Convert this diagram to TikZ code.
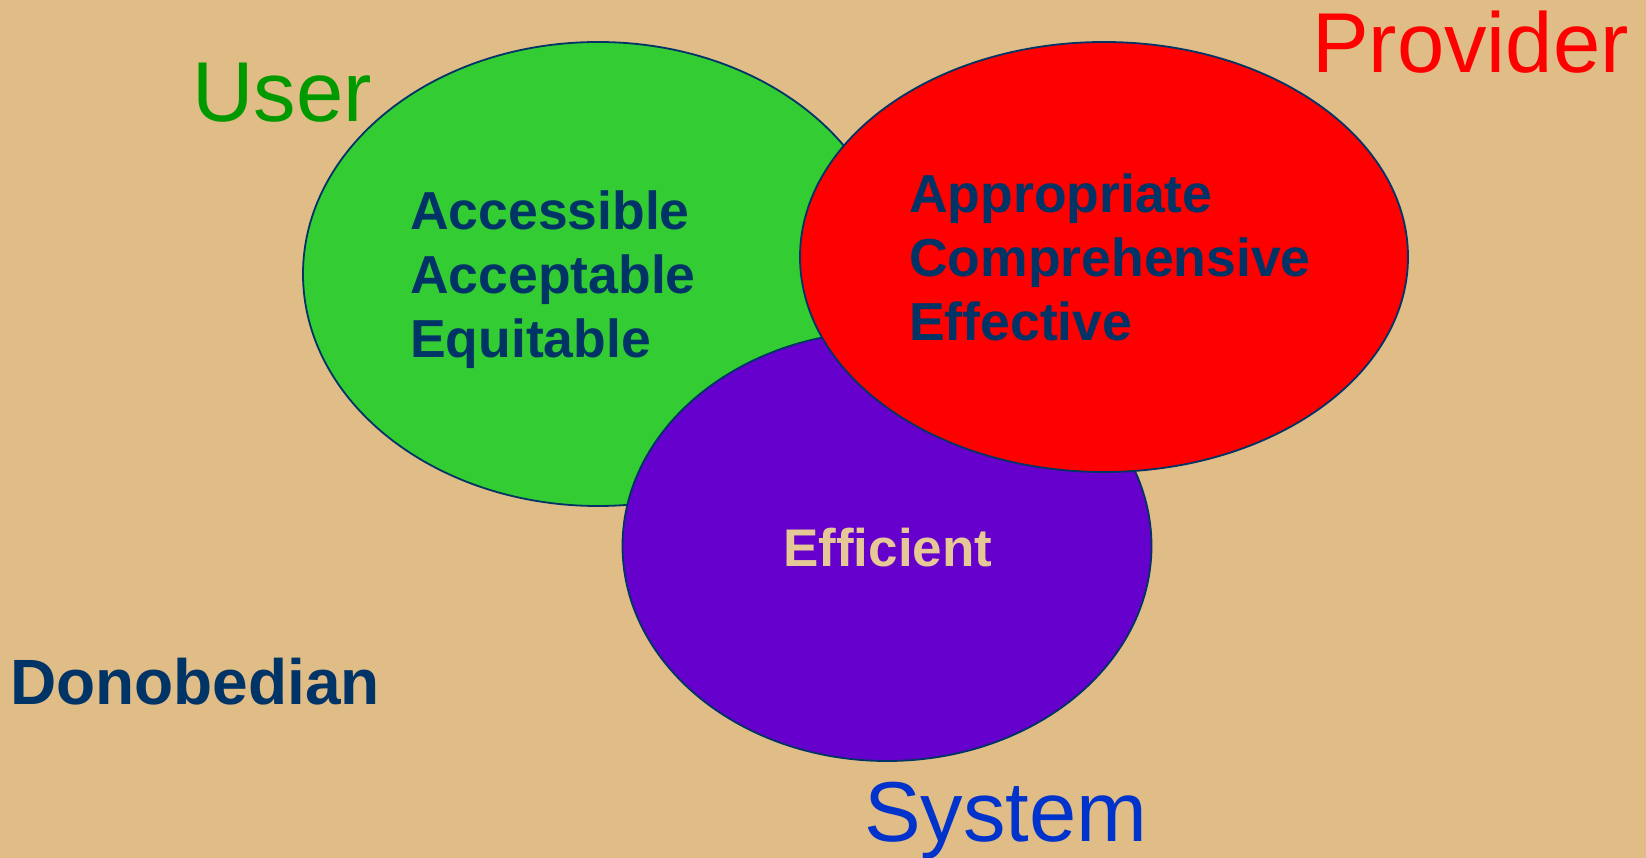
\documentclass[tikz,border=0pt]{standalone}
\usepackage{fontspec}
\setmainfont{Liberation Sans}
\usetikzlibrary{shapes,positioning}
\definecolor{bgsand}{RGB}{224,188,135}
\definecolor{usergreen}{RGB}{51,204,51}
\definecolor{provred}{RGB}{255,0,0}
\definecolor{syspurple}{RGB}{102,0,204}
\definecolor{navy}{RGB}{0,51,102}
\definecolor{labgreen}{RGB}{0,153,0}
\definecolor{sysblue}{RGB}{0,51,204}
\definecolor{effsand}{RGB}{230,200,150}
\tikzset{
    %Define style for the three sets
    set/.style={
           ellipse,
           draw=navy,
           line width=1.8pt,
           inner sep=0pt},
    % Define style for the group labels
    grouplabel/.style={
           anchor=base west,
           inner sep=0pt,
           font=\fontsize{85}{85}\selectfont},
    % Define style for the quality words
    quality/.style={
           anchor=base west,
           inner sep=0pt,
           text=navy,
           font=\fontsize{53.5}{64}\selectfont\bfseries}
}
\begin{document}
\begin{tikzpicture}[x=1pt, y=-1pt]
    \fill[bgsand] (0,0) rectangle (1646,858);
    \useasboundingbox (0,0) rectangle (1646,858);

    \node [set, fill=usergreen, minimum width=590pt, minimum height=464pt] (user) at (598,274) {};
    \node [set, fill=syspurple, minimum width=529pt, minimum height=430pt] (system) at (887,546) {};
    \node [set, fill=provred, minimum width=608pt, minimum height=430pt] (provider) at (1104,257) {};

    \node [quality] (accessible) at (410,230) {Accessible};
    \node [quality] (acceptable) at (410,294) {Acceptable};
    \node [quality] (equitable) at (410,358) {Equitable};

    \node [quality] (appropriate) at (909,213) {Appropriate};
    \node [quality] (comprehensive) at (909,277) {Comprehensive};
    \node [quality] (effective) at (909,341) {Effective};

    \node [quality, text=effsand, font=\fontsize{53}{53}\selectfont\bfseries] (efficient) at (783,566) {Efficient};

    \node [grouplabel, text=labgreen] (userlabel) at (192,122) {User};
    \node [grouplabel, text=provred] (providerlabel) at (1312,73) {Provider};
    \node [grouplabel, text=sysblue] (systemlabel) at (864,841) {System};
    \node [quality, font=\fontsize{64}{64}\selectfont\bfseries] (donobedian) at (10,704) {Donobedian};
\end{tikzpicture}
\end{document}
